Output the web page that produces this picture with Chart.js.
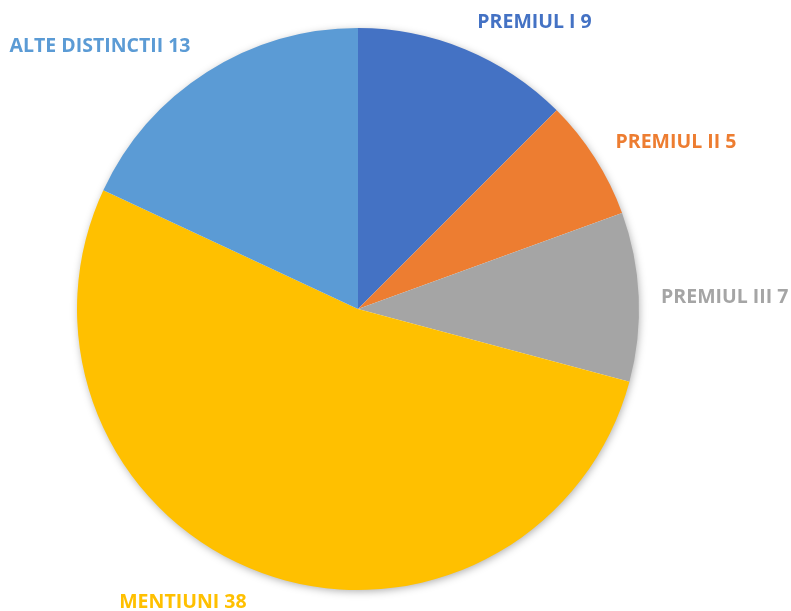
<!DOCTYPE html>
<html>
<head>
<meta charset="utf-8">
<script src="https://cdn.jsdelivr.net/npm/chart.js@4.4.1/dist/chart.umd.min.js"></script>
<style>
  html, body { margin: 0; padding: 0; background: #fff; }
  #wrap { width: 791px; height: 611px; }
</style>
</head>
<body>
<div id="wrap"><canvas id="chartPremii"></canvas></div>
<script>
// ==================== DATE ====================
const categorii = ['PREMIUL I', 'PREMIUL II', 'PREMIUL III', 'MENTIUNI', 'ALTE DISTINCTII'];
const valori = [9, 5, 7, 38, 13];
const culori = ['#4472C4', '#ED7D31', '#A5A5A5', '#FFC000', '#5B9BD5'];

// deplasarea etichetelor fata de marginea feliei (px), linia de baza a textului
const deplasari = [[69, -21], [81, -10], [86, 6], [-79, 35], [-107, -20]];

// umbra discreta in jurul placintei
const umbraPlacinta = {
  id: 'umbraPlacinta',
  beforeDatasetsDraw(chart) {
    const arc = chart.getDatasetMeta(0).data[0];
    if (!arc) return;
    const ctx = chart.ctx;
    ctx.save();
    ctx.shadowColor = 'rgba(0,0,0,0.35)';
    ctx.shadowBlur = 9;
    ctx.shadowOffsetX = 1;
    ctx.shadowOffsetY = 2;
    ctx.fillStyle = '#fff';
    ctx.beginPath();
    ctx.arc(arc.x, arc.y, arc.outerRadius - 1, 0, Math.PI * 2);
    ctx.fill();
    ctx.restore();
  }
};

// etichete exterioare, ca in Excel
const eticheteExterioare = {
  id: 'eticheteExterioare',
  afterDatasetsDraw(chart) {
    const ctx = chart.ctx;
    const meta = chart.getDatasetMeta(0);
    ctx.save();
    ctx.font = 'bold 19.5px "Open Sans", sans-serif';
    ctx.textAlign = 'center';
    ctx.textBaseline = 'alphabetic';
    meta.data.forEach((arc, i) => {
      const mid = (arc.startAngle + arc.endAngle) / 2;
      const x = arc.x + Math.cos(mid) * arc.outerRadius + deplasari[i][0];
      const y = arc.y + Math.sin(mid) * arc.outerRadius + deplasari[i][1];
      ctx.fillStyle = culori[i];
      ctx.fillText(categorii[i] + ' ' + valori[i], x, y);
    });
    ctx.restore();
  }
};

const cxPremii = document.getElementById('chartPremii');
const chtPremii = new Chart(cxPremii, {
  type: 'pie',
  data: {
    labels: categorii,
    datasets: [{
      data: valori,
      backgroundColor: culori,
      borderWidth: 0,
    }]
  },
  options: {
    responsive: true,
    maintainAspectRatio: false,
    animation: false,
    layout: {
      padding: { left: 77, right: 152, top: 28, bottom: 21 }
    },
    plugins: {
      legend: { display: false },
      tooltip: { enabled: false },
    },
  },
  plugins: [umbraPlacinta, eticheteExterioare]
});
</script>
</body>
</html>
